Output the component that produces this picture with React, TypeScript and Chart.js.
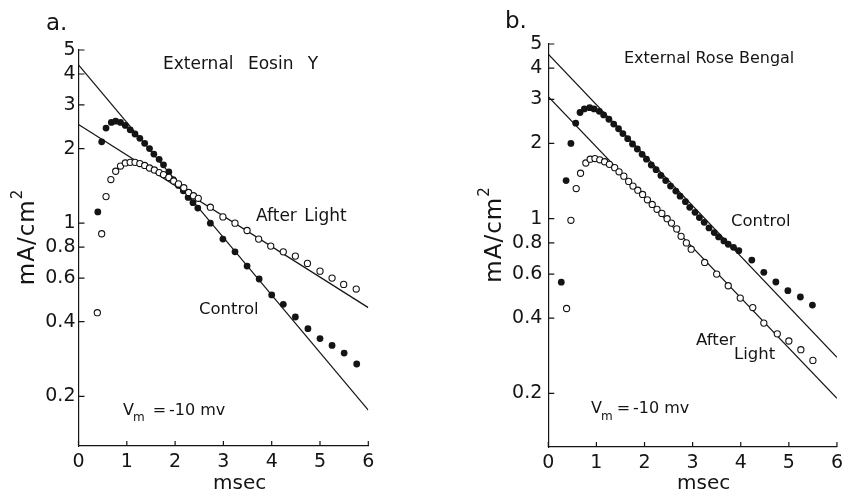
import React, { useEffect, useRef } from 'react';
import { Chart, registerables } from 'chart.js';

Chart.register(...registerables);

// ---------- axis ticks ----------
const xTickValues = [0, 1, 2, 3, 4, 5, 6];
const yTickValues = [0.2, 0.4, 0.6, 0.8, 1, 2, 3, 4, 5];
const yTickLabels = ['0.2', '0.4', '0.6', '0.8', '1', '2', '3', '4', '5'];

// ---------- panel a: External Eosin Y ----------
const eosinControlT = [0.40, 0.48, 0.57, 0.68, 0.77, 0.87, 0.97, 1.07, 1.17, 1.27, 1.37, 1.47, 1.56, 1.67, 1.76, 1.87, 1.96, 2.07, 2.17, 2.27, 2.37, 2.47, 2.73, 2.99, 3.24, 3.49, 3.74, 4.00, 4.24, 4.49, 4.75, 5.00, 5.25, 5.50, 5.76];
const eosinControlV = [1.11, 2.13, 2.42, 2.55, 2.58, 2.55, 2.48, 2.38, 2.29, 2.20, 2.10, 2.00, 1.90, 1.81, 1.72, 1.61, 1.50, 1.42, 1.35, 1.27, 1.21, 1.15, 1.00, 0.862, 0.766, 0.671, 0.595, 0.513, 0.470, 0.418, 0.375, 0.342, 0.321, 0.299, 0.270];
const eosinLightT = [0.39, 0.48, 0.57, 0.67, 0.77, 0.87, 0.97, 1.07, 1.17, 1.27, 1.37, 1.47, 1.57, 1.67, 1.76, 1.87, 1.97, 2.07, 2.18, 2.28, 2.38, 2.48, 2.73, 2.99, 3.24, 3.49, 3.73, 3.98, 4.24, 4.49, 4.74, 5.00, 5.25, 5.49, 5.75];
const eosinLightV = [0.435, 0.906, 1.28, 1.50, 1.62, 1.70, 1.75, 1.76, 1.76, 1.74, 1.71, 1.67, 1.64, 1.60, 1.57, 1.53, 1.48, 1.44, 1.39, 1.33, 1.29, 1.26, 1.16, 1.06, 1.00, 0.934, 0.862, 0.808, 0.766, 0.736, 0.688, 0.640, 0.600, 0.566, 0.542];

// ---------- panel b: External Rose Bengal ----------
const roseControlT = [0.27, 0.37, 0.47, 0.57, 0.66, 0.75, 0.86, 0.95, 1.06, 1.15, 1.26, 1.36, 1.46, 1.55, 1.65, 1.75, 1.85, 1.95, 2.04, 2.14, 2.24, 2.34, 2.44, 2.54, 2.65, 2.74, 2.85, 2.94, 3.05, 3.14, 3.24, 3.34, 3.45, 3.54, 3.65, 3.74, 3.85, 3.96, 4.23, 4.48, 4.73, 4.98, 5.24, 5.49];
const roseControlV = [0.557, 1.42, 2.00, 2.41, 2.66, 2.75, 2.78, 2.75, 2.69, 2.60, 2.50, 2.39, 2.29, 2.19, 2.09, 1.99, 1.90, 1.81, 1.73, 1.64, 1.57, 1.49, 1.42, 1.35, 1.29, 1.23, 1.17, 1.11, 1.06, 1.01, 0.967, 0.918, 0.880, 0.845, 0.815, 0.790, 0.768, 0.745, 0.683, 0.610, 0.558, 0.515, 0.486, 0.451];
const roseLightT = [0.38, 0.47, 0.58, 0.67, 0.78, 0.87, 0.97, 1.07, 1.17, 1.27, 1.38, 1.47, 1.57, 1.67, 1.76, 1.86, 1.96, 2.06, 2.16, 2.26, 2.36, 2.47, 2.56, 2.67, 2.76, 2.87, 2.97, 3.25, 3.50, 3.74, 3.99, 4.25, 4.48, 4.76, 5.00, 5.25, 5.50];
const roseLightV = [0.437, 0.985, 1.32, 1.52, 1.67, 1.73, 1.74, 1.72, 1.69, 1.65, 1.60, 1.54, 1.48, 1.41, 1.35, 1.30, 1.25, 1.19, 1.14, 1.09, 1.05, 1.00, 0.96, 0.91, 0.85, 0.80, 0.755, 0.668, 0.600, 0.539, 0.481, 0.441, 0.382, 0.346, 0.324, 0.299, 0.271];

// ---------- fitted exponential lines (end points at 0 and 6 msec) ----------
const fitT = [0, 6];
const eosinControlFit = [4.35, 0.176];
const eosinLightFit = [2.5, 0.456];
const roseControlFit = [4.55, 0.279];
const roseLightFit = [3.08, 0.191];

const INK = '#141414';
const FAMILY = '"DejaVu Sans", "Liberation Sans", sans-serif';
const font = (s: number) => `${s}px ${FAMILY}`;

type Run = { t: string; s: number; dx?: number; dy?: number; ws?: number; ls?: number };
type Label = { x: number; y: number; runs: Run[]; rotate?: boolean; center?: boolean };

const zip = (t: number[], v: number[]) => t.map((x, i) => ({ x, y: v[i] }));

function setRun(ctx: any, r: Run) {
  ctx.font = font(r.s);
  ctx.wordSpacing = `${r.ws || 0}px`;
  ctx.letterSpacing = `${r.ls || 0}px`;
}

function drawLabel(ctx: CanvasRenderingContext2D, lab: Label) {
  ctx.save();
  let total = 0;
  lab.runs.forEach((r) => {
    setRun(ctx, r);
    total += (r.dx || 0) + ctx.measureText(r.t).width;
  });
  ctx.translate(lab.x, lab.y);
  if (lab.rotate) ctx.rotate(-Math.PI / 2);
  ctx.fillStyle = INK;
  ctx.textAlign = 'left';
  ctx.textBaseline = lab.center ? 'middle' : 'alphabetic';
  let cx = lab.center ? -total / 2 : 0;
  lab.runs.forEach((r) => {
    setRun(ctx, r);
    cx += r.dx || 0;
    ctx.fillText(r.t, cx, r.dy || 0);
    cx += ctx.measureText(r.t).width;
  });
  ctx.restore();
}

function makePaperPlugin(labels: Label[]) {
  return {
    id: 'paper',
    afterDraw(chart: any) {
      const ctx = chart.ctx as CanvasRenderingContext2D;
      const { left, bottom } = chart.chartArea;
      const xs = chart.scales.x;
      const ys = chart.scales.y;
      ctx.save();
      ctx.strokeStyle = INK;
      ctx.lineWidth = 1.2;
      ctx.beginPath();
      xs.ticks.forEach((t: any) => {
        const px = xs.getPixelForValue(t.value);
        ctx.moveTo(px, bottom);
        ctx.lineTo(px, bottom - 5);
      });
      ys.ticks.forEach((t: any) => {
        const py = ys.getPixelForValue(t.value);
        ctx.moveTo(left, py);
        ctx.lineTo(left + 6, py);
      });
      ctx.stroke();
      ctx.restore();
      labels.forEach((l) => drawLabel(ctx, l));
    },
  };
}

type Panel = {
  controlT: number[];
  controlV: number[];
  lightT: number[];
  lightV: number[];
  controlFit: number[];
  lightFit: number[];
  top: number;
  right: number;
  yAxisW: number;
  xAxisH: number;
  yMin: number;
  yPad: number;
  labels: Label[];
};

const panelA: Panel = {
  controlT: eosinControlT,
  controlV: eosinControlV,
  lightT: eosinLightT,
  lightV: eosinLightV,
  controlFit: eosinControlFit,
  lightFit: eosinLightFit,
  top: 50,
  right: 55.7,
  yAxisW: 78.5,
  xAxisH: 57,
  yMin: 0.126,
  yPad: 3,
  labels: [
    { x: 46, y: 30, runs: [{ t: 'a.', s: 23 }] },
    { x: 163, y: 69, runs: [{ t: 'External Eosin Y', s: 17, ws: 9 }] },
    { x: 256, y: 221, runs: [{ t: 'After Light', s: 17, ws: 2 }] },
    { x: 199, y: 314, runs: [{ t: 'Control', s: 16.5 }] },
    {
      x: 123, y: 415,
      runs: [
        { t: 'V', s: 16 },
        { t: 'm', s: 12, dx: -1, dy: 6 },
        { t: '=', s: 16, dx: 8 },
        { t: '-10 mv', s: 16, dx: 3 },
      ],
    },
    { x: 238, y: 489, center: false, runs: [{ t: 'msec', s: 20, dx: -25 }] },
    {
      x: 28, y: 237.5, rotate: true, center: true,
      runs: [
        { t: 'mA/cm', s: 23, ls: 1 },
        { t: '2', s: 15, dy: -10 },
      ],
    },
  ],
};

const panelB: Panel = {
  controlT: roseControlT,
  controlV: roseControlV,
  lightT: roseLightT,
  lightV: roseLightV,
  controlFit: roseControlFit,
  lightFit: roseLightFit,
  top: 44,
  right: 10.3,
  yAxisW: 124.3,
  xAxisH: 56,
  yMin: 0.122,
  yPad: 6,
  labels: [
    { x: 81, y: 28, runs: [{ t: 'b.', s: 23 }] },
    { x: 200, y: 63, runs: [{ t: 'External Rose Bengal', s: 16 }] },
    { x: 307, y: 226, runs: [{ t: 'Control', s: 16.5 }] },
    { x: 272, y: 345, runs: [{ t: 'After', s: 16.5 }] },
    { x: 310, y: 359, runs: [{ t: 'Light', s: 16.5 }] },
    {
      x: 167, y: 413,
      runs: [
        { t: 'V', s: 16 },
        { t: 'm', s: 12, dx: -1, dy: 7 },
        { t: '=', s: 16, dx: 4 },
        { t: '-10 mv', s: 16, dx: 3 },
      ],
    },
    { x: 278, y: 489, runs: [{ t: 'msec', s: 20, dx: -25 }] },
    {
      x: 71, y: 235, rotate: true, center: true,
      runs: [
        { t: 'mA/cm', s: 23, ls: 1 },
        { t: '2', s: 15, dy: -10 },
      ],
    },
  ],
};

function makeConfig(p: Panel): any {
  return {
    type: 'scatter',
    data: {
      datasets: [
        {
          label: 'Control',
          data: zip(p.controlT, p.controlV),
          showLine: false,
          pointRadius: 3.4,
          pointBackgroundColor: INK,
          pointBorderColor: INK,
          pointBorderWidth: 0,
          order: 1,
        },
        {
          label: 'After Light',
          data: zip(p.lightT, p.lightV),
          showLine: false,
          pointRadius: 3.1,
          pointBackgroundColor: '#ffffff',
          pointBorderColor: INK,
          pointBorderWidth: 1.1,
          order: 0,
        },
        {
          label: 'Control fit',
          data: zip(fitT, p.controlFit),
          showLine: true,
          pointRadius: 0,
          borderColor: INK,
          borderWidth: 1.2,
          order: 2,
        },
        {
          label: 'After Light fit',
          data: zip(fitT, p.lightFit),
          showLine: true,
          pointRadius: 0,
          borderColor: INK,
          borderWidth: 1.2,
          order: 2,
        },
      ],
    },
    options: {
      animation: false,
      responsive: false,
      maintainAspectRatio: false,
      events: [],
      layout: { padding: { left: 0, top: p.top, right: p.right, bottom: 0 } },
      plugins: { legend: { display: false }, tooltip: { enabled: false }, title: { display: false } },
      scales: {
        x: {
          type: 'linear',
          min: 0,
          max: 6,
          afterBuildTicks: (s: any) => {
            s.ticks = xTickValues.map((v) => ({ value: v }));
          },
          afterFit: (s: any) => {
            s.height = p.xAxisH;
          },
          grid: { display: true, drawOnChartArea: false, drawTicks: false },
          border: { display: true, color: INK, width: 1.2 },
          ticks: {
            color: INK,
            font: { family: FAMILY, size: 19 },
            padding: 5,
            maxRotation: 0,
            autoSkip: false,
            callback: (v: number) => String(v),
          },
        },
        y: {
          type: 'logarithmic',
          min: p.yMin,
          max: 5,
          afterBuildTicks: (s: any) => {
            s.ticks = yTickValues.map((v) => ({ value: v }));
          },
          afterFit: (s: any) => {
            s.width = p.yAxisW;
          },
          grid: { display: true, drawOnChartArea: false, drawTicks: false },
          border: { display: true, color: INK, width: 1.2 },
          ticks: {
            color: INK,
            font: { family: FAMILY, size: 19 },
            padding: p.yPad,
            autoSkip: false,
            callback: (v: number) => {
              const i = yTickValues.indexOf(v);
              return i >= 0 ? yTickLabels[i] : '';
            },
          },
        },
      },
    },
    plugins: [makePaperPlugin(p.labels)],
  };
}

export default function App() {
  const refA = useRef<HTMLCanvasElement>(null);
  const refB = useRef<HTMLCanvasElement>(null);
  useEffect(() => {
    const a = new Chart(refA.current as HTMLCanvasElement, makeConfig(panelA));
    const b = new Chart(refB.current as HTMLCanvasElement, makeConfig(panelB));
    return () => {
      a.destroy();
      b.destroy();
    };
  }, []);
  return (
    <div style={{ position: 'absolute', left: 0, top: 0, width: 848, height: 503, background: '#ffffff' }}>
      <canvas ref={refA} width={424} height={503} style={{ position: 'absolute', left: 0, top: 0 }} />
      <canvas ref={refB} width={424} height={503} style={{ position: 'absolute', left: 424, top: 0 }} />
    </div>
  );
}
